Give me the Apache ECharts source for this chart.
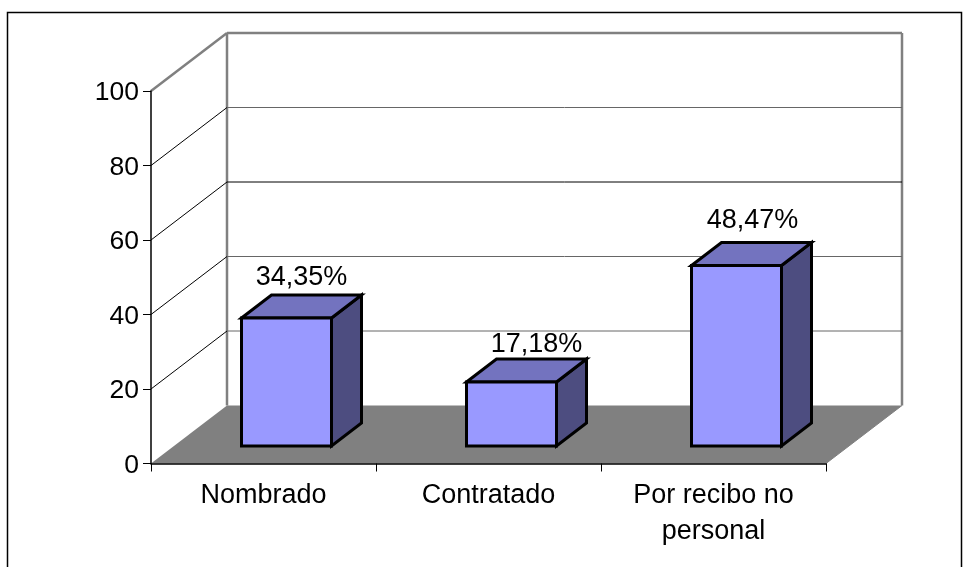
<!DOCTYPE html>
<html>
<head>
<meta charset="utf-8">
<script src="https://cdn.jsdelivr.net/npm/echarts@6/dist/echarts.min.js"></script>
<style>
  html, body { margin: 0; padding: 0; background: #fff; }
  #chart { width: 968px; height: 567px; }
</style>
</head>
<body>
<div id="chart"></div>
<script>
  var categories = ['Nombrado', 'Contratado', 'Por recibo no\npersonal'];
  var values = [34.35, 17.18, 48.47];
  var valueLabels = ['34,35%', '17,18%', '48,47%'];
  var yTicks = [0, 20, 40, 60, 80, 100];

  // fake 3d: how far the back wall and the bars are pushed, in px
  var wallDx = 76, wallDy = -58;
  var barShiftDx = 23, barShiftDy = -17.5;
  var barDx = 30, barDy = -23;
  var labelNudge = [[15, -17], [25, -14], [16, -22]];
  var font = 'Liberation Sans';

  function poly(points, fill, stroke, width) {
    return {
      type: 'polygon',
      shape: { points: points },
      style: { fill: fill, stroke: stroke || null, lineWidth: width || 0, lineJoin: 'miter' }
    };
  }
  function seg(x1, y1, x2, y2, color, width) {
    return {
      type: 'line',
      shape: { x1: x1, y1: y1, x2: x2, y2: y2 },
      style: { stroke: color, lineWidth: width }
    };
  }

  // floor, walls and grid lines, one item per y tick
  function renderWall(params, api) {
    var v = api.value(0);
    var band = api.size([1, 0])[0];
    var p = api.coord([0, v]);
    var x0 = p[0] - band / 2;
    var x1 = x0 + band * categories.length;
    var y = p[1];
    var children = [];
    if (v === 0) {
      children.push(poly([[x0, y], [x0 + wallDx, y + wallDy], [x1 + wallDx, y + wallDy], [x1, y]], '#808080'));
      var top = api.coord([0, 100])[1];
      children.push(seg(x0 + wallDx, y + wallDy, x0 + wallDx, top + wallDy, '#808080', 2.5));
      children.push(seg(x1 + wallDx, y + wallDy, x1 + wallDx, top + wallDy, '#808080', 2.5));
      children.push(seg(x1, y, x1 + wallDx, y + wallDy, '#808080', 1));
    } else if (v === 100) {
      children.push(seg(x0, y, x0 + wallDx, y + wallDy, '#808080', 2.5));
      children.push(seg(x0 + wallDx, y + wallDy, x1 + wallDx, y + wallDy, '#808080', 2.5));
    } else {
      children.push(seg(x0, y, x0 + wallDx, y + wallDy, '#000', 1));
      children.push(seg(x0 + wallDx, y + wallDy, x1 + wallDx, y + wallDy, v === 60 ? '#000' : '#666', 1));
    }
    // y labels sit a bit low in the original, axisLabel would not move them
    children.push({
      type: 'text',
      style: {
        text: String(v),
        x: x0 - 12,
        y: y + 2,
        align: 'right',
        verticalAlign: 'middle',
        font: '26.5px "' + font + '"',
        fill: '#000'
      }
    });
    return { type: 'group', children: children };
  }

  function renderBar(params, api) {
    var i = api.value(0);
    var v = api.value(1);
    var band = api.size([1, 0])[0];
    var w = band / 2.5;
    var p = api.coord([i, v]);
    var base = api.coord([i, 0]);
    var l = p[0] - w / 2 + barShiftDx;
    var r = l + w;
    var t = p[1] + barShiftDy;
    var b = base[1] + barShiftDy;
    var nudge = labelNudge[i];
    return {
      type: 'group',
      children: [
        poly([[r, t], [r + barDx, t + barDy], [r + barDx, b + barDy], [r, b]], '#4D4D80', '#000', 3),
        poly([[l, t], [l + barDx, t + barDy], [r + barDx, t + barDy], [r, t]], '#7373BF', '#000', 3),
        poly([[l, t], [r, t], [r, b], [l, b]], '#9999FF', '#000', 3),
        {
          type: 'text',
          style: {
            text: valueLabels[i],
            x: (l + r) / 2 + nudge[0],
            y: t + barDy + nudge[1],
            align: 'center',
            verticalAlign: 'middle',
            font: '27px "' + font + '"',
            fill: '#000'
          }
        }
      ]
    };
  }

  var chart = echarts.init(document.getElementById('chart'), null, { renderer: 'canvas' });
  chart.setOption({
    animation: false,
    backgroundColor: '#fff',
    graphic: [{
      type: 'rect',
      silent: true,
      z: -1,
      shape: { x: 7.5, y: 12.5, width: 954, height: 570 },
      style: { fill: 'transparent', stroke: '#000', lineWidth: 1.5 }
    }],
    grid: { left: 151, top: 91, width: 675, height: 372.5 },
    xAxis: {
      type: 'category',
      data: categories,
      axisLine: { lineStyle: { color: '#000', width: 1.5 } },
      axisTick: { show: true, length: 8, lineStyle: { color: '#000', width: 1 } },
      axisLabel: {
        color: '#000',
        fontFamily: font,
        fontSize: 27,
        lineHeight: 36,
        margin: 14,
        interval: 0
      },
      z: 5
    },
    yAxis: {
      type: 'value',
      min: 0,
      max: 100,
      interval: 20,
      splitLine: { show: false },
      axisLine: { show: true, lineStyle: { color: '#000', width: 1.5 } },
      axisTick: { show: true, length: 8, lineStyle: { color: '#000', width: 1 } },
      axisLabel: { show: false },
      z: 5
    },
    series: [
      {
        type: 'custom',
        renderItem: renderWall,
        data: yTicks.map(function (v) { return [v]; }),
        encode: { y: 0 },
        clip: false,
        silent: true,
        z: 1
      },
      {
        type: 'custom',
        renderItem: renderBar,
        data: values.map(function (v, i) { return [i, v]; }),
        encode: { x: 0, y: 1 },
        clip: false,
        silent: true,
        z: 3
      }
    ]
  });
</script>
</body>
</html>
